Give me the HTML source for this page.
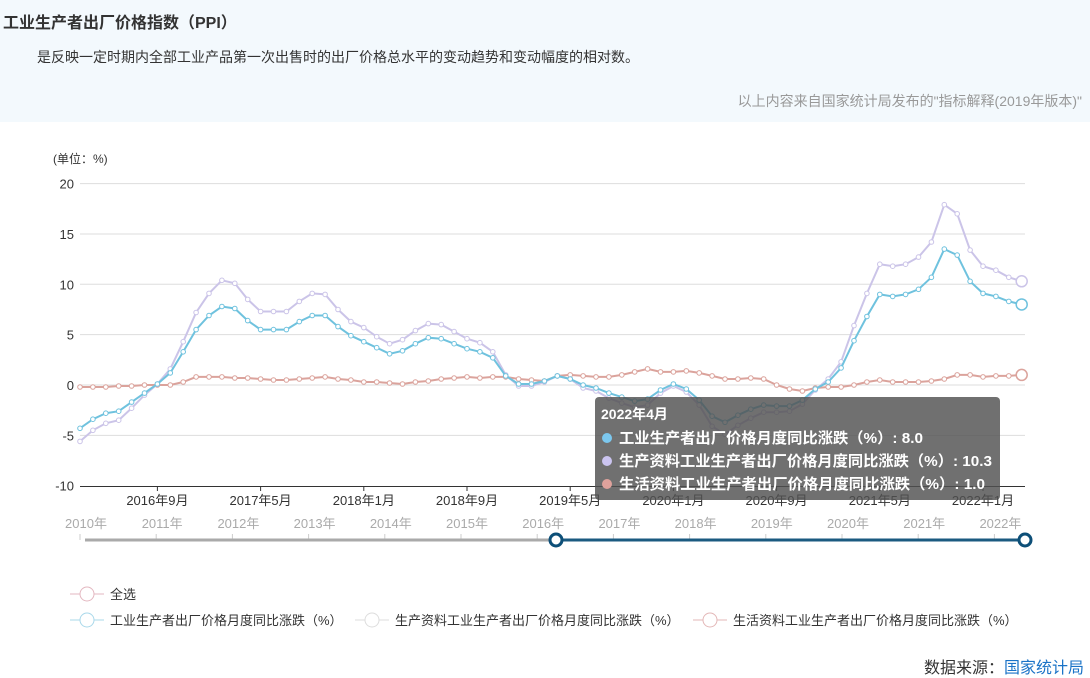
<!DOCTYPE html>
<html><head><meta charset="utf-8">
<style>
body{margin:0;width:1090px;height:678px;background:#fff;font-family:"Liberation Sans","Noto Sans CJK SC",sans-serif;position:relative;overflow:hidden}
.hdr{position:absolute;left:0;top:0;width:1090px;height:122px;background:#f3f9fd}
.t{position:absolute;left:3px;top:9px;font-size:16px;font-weight:bold;color:#333}
.d{position:absolute;left:37px;top:47px;font-size:14px;color:#333}
.s{position:absolute;right:8px;top:91px;font-size:14px;color:#999}
.src{position:absolute;right:6px;top:654px;font-size:16px;color:#333}
.src span{color:#1a73c7}
svg{position:absolute;left:0;top:0}
</style></head><body>
<div class="hdr"></div>
<div class="t">工业生产者出厂价格指数（PPI）</div>
<div class="d">是反映一定时期内全部工业产品第一次出售时的出厂价格总水平的变动趋势和变动幅度的相对数。</div>
<div class="s">以上内容来自国家统计局发布的"指标解释(2019年版本)"</div>
<div class="src">数据来源：<span>国家统计局</span></div>
<svg id="c" width="1090" height="678" font-family="Liberation Sans, Noto Sans CJK SC, sans-serif"></svg>
<script>
var a=[-4.3,-3.4,-2.8,-2.6,-1.7,-0.8,0.1,1.2,3.3,5.5,6.9,7.8,7.6,6.4,5.5,5.5,5.5,6.3,6.9,6.9,5.8,4.9,4.3,3.7,3.1,3.4,4.1,4.7,4.6,4.1,3.6,3.3,2.7,0.9,0.1,0.1,0.4,0.9,0.6,0.0,-0.3,-0.8,-1.2,-1.6,-1.4,-0.5,0.1,-0.4,-1.5,-3.1,-3.7,-3.0,-2.4,-2.0,-2.1,-2.1,-1.5,-0.4,0.3,1.7,4.4,6.8,9.0,8.8,9.0,9.5,10.7,13.5,12.9,10.3,9.1,8.8,8.3,8.0];
var b=[-5.6,-4.5,-3.8,-3.5,-2.3,-1.0,0.1,1.6,4.3,7.2,9.1,10.4,10.1,8.5,7.3,7.3,7.3,8.3,9.1,9.0,7.5,6.3,5.7,4.8,4.1,4.5,5.4,6.1,6.0,5.3,4.6,4.2,3.3,1.0,-0.1,-0.1,0.3,0.9,0.6,-0.3,-0.6,-1.3,-1.8,-2.2,-2.0,-0.8,-0.1,-0.7,-2.0,-4.1,-4.9,-4.0,-3.3,-2.7,-2.7,-2.6,-1.9,-0.5,0.6,2.3,5.9,9.1,12.0,11.8,12.0,12.7,14.2,17.9,17.0,13.4,11.8,11.4,10.7,10.3];
var c=[-0.2,-0.2,-0.2,-0.1,-0.1,0,0,0,0.3,0.8,0.8,0.8,0.7,0.7,0.6,0.5,0.5,0.6,0.7,0.8,0.6,0.5,0.3,0.3,0.2,0.1,0.3,0.4,0.6,0.7,0.8,0.7,0.8,0.8,0.6,0.5,0.4,0.9,1.0,0.9,0.8,0.8,1.0,1.3,1.6,1.3,1.3,1.4,1.2,0.9,0.6,0.6,0.7,0.6,0.0,-0.4,-0.6,-0.3,-0.2,-0.2,0.0,0.3,0.5,0.3,0.3,0.3,0.4,0.6,1.0,1.0,0.8,0.9,0.9,1.0];
var s='',X=function(i){return 80+i*12.9},Y=function(v){return 385-v*10.07};
[20,15,10,5,0,-5].forEach(function(v){s+='<line x1="80" x2="1025" y1="'+Y(v)+'" y2="'+Y(v)+'" stroke="#ddd"/>';});
[20,15,10,5,0,-5,-10].forEach(function(v){s+='<text x="74" y="'+(Y(v)+5)+'" text-anchor="end" font-size="13" fill="#333">'+v+'</text>';});
s+='<text x="53" y="163" font-size="12" fill="#333">(单位：%)</text>';
s+='<line x1="80" x2="1025" y1="486.5" y2="486.5" stroke="#333"/>';
var tl=['2016年9月','2017年5月','2018年1月','2018年9月','2019年5月','2020年1月','2020年9月','2021年5月','2022年1月'];
tl.forEach(function(t,k){var x=X(6+8*k);s+='<line x1="'+x+'" x2="'+x+'" y1="486" y2="491" stroke="#333"/><text x="'+x+'" y="505" text-anchor="middle" font-size="13" fill="#333">'+t+'</text>';});
function ser(d,col){var p='';d.forEach(function(v,i){p+=(i?'L':'M')+X(i).toFixed(1)+','+Y(v).toFixed(1);});
 s+='<path d="'+p+'" fill="none" stroke="'+col+'" stroke-width="2"/>';
 d.forEach(function(v,i){if(i<d.length-1)s+='<circle cx="'+X(i).toFixed(1)+'" cy="'+Y(v).toFixed(1)+'" r="2.3" fill="#fff" stroke="'+col+'"/>';});
 s+='<circle cx="'+X(d.length-1)+'" cy="'+Y(d[d.length-1])+'" r="5.5" fill="#fff" stroke="'+col+'" stroke-width="1.5"/>';}
ser(c,'#dba39c');ser(b,'#cbc4e8');ser(a,'#6fc2de');
var yrs=['2010年','2011年','2012年','2013年','2014年','2015年','2016年','2017年','2018年','2019年','2020年','2021年','2022年'];
yrs.forEach(function(y,i){var x=86+i*76.2;s+='<text x="'+x+'" y="528" text-anchor="middle" font-size="13" fill="#aaa">'+y+'</text><line x1="'+(x-6)+'" x2="'+(x-6)+'" y1="534" y2="540" stroke="#ccc"/>';});
s+='<line x1="85" x2="556" y1="540" y2="540" stroke="#aaa" stroke-width="3"/>';
s+='<line x1="556" x2="1025" y1="540" y2="540" stroke="#1b5a80" stroke-width="3"/>';
s+='<circle cx="556" cy="540" r="6" fill="#fff" stroke="#0d4f78" stroke-width="3"/><circle cx="1025" cy="540" r="6" fill="#fff" stroke="#0d4f78" stroke-width="3"/>';
s+='<rect x="595" y="397" width="405" height="103" rx="4" fill="rgba(80,80,80,0.82)"/>';
s+='<text x="601" y="419" font-size="14" font-weight="bold" fill="#fff">2022年4月</text>';
var tt=[['#7cc8ef','工业生产者出厂价格月度同比涨跌（%）: 8.0',304],['#cbc4f0','生产资料工业生产者出厂价格月度同比涨跌（%）: 10.3',373],['#e0a29c','生活资料工业生产者出厂价格月度同比涨跌（%）: 1.0',366]];
tt.forEach(function(t,i){var y=443+i*23;s+='<circle cx="607" cy="'+(y-5)+'" r="5" fill="'+t[0]+'"/><text x="619" y="'+y+'" font-size="15" font-weight="bold" fill="#fff" textLength="'+t[2]+'" lengthAdjust="spacingAndGlyphs">'+t[1]+'</text>';});
function lg(x,y,col,txt){s+='<line x1="'+x+'" x2="'+(x+34)+'" y1="'+y+'" y2="'+y+'" stroke="'+col+'"/><circle cx="'+(x+17)+'" cy="'+y+'" r="7" fill="#fff" stroke="'+col+'"/><text x="'+(x+40)+'" y="'+(y+5)+'" font-size="13" fill="#333">'+txt+'</text>';}
lg(70,594,'#e3b7c0','全选');
lg(70,620,'#a9d8ea','工业生产者出厂价格月度同比涨跌（%）');
lg(355,620,'#ddd','生产资料工业生产者出厂价格月度同比涨跌（%）');
lg(693,620,'#e3b7b7','生活资料工业生产者出厂价格月度同比涨跌（%）');
document.getElementById('c').innerHTML=s;
</script>
</body></html>
